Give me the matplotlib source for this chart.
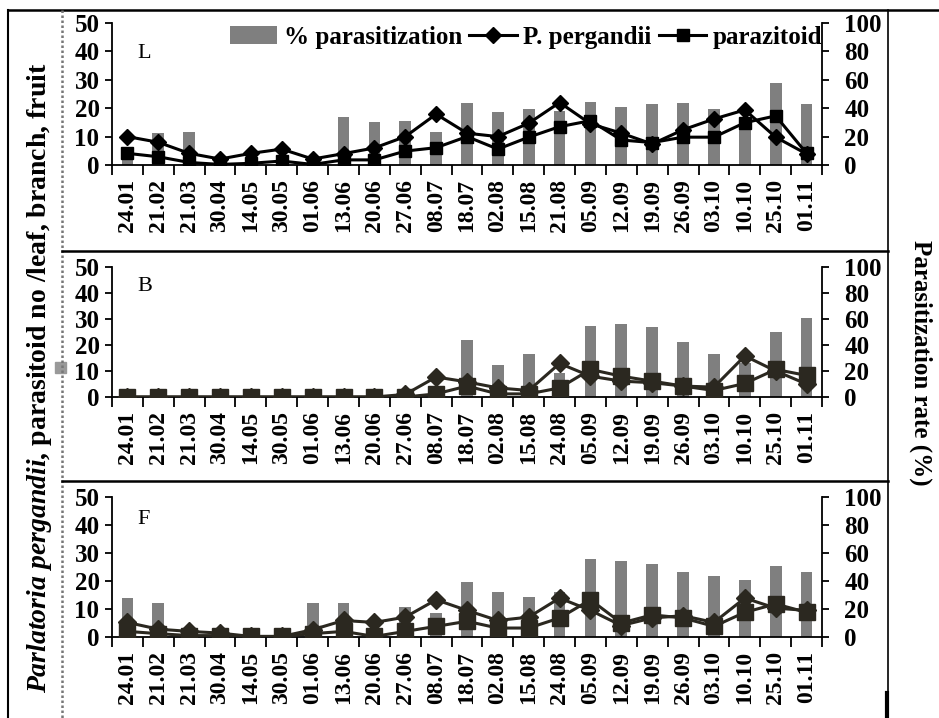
import numpy as np
import matplotlib
matplotlib.use("Agg")
import matplotlib.pyplot as plt
from matplotlib.lines import Line2D
from matplotlib.patches import Rectangle

plt.rcParams['font.family'] = ['Liberation Serif', 'DejaVu Serif']
plt.rcParams['font.weight'] = 'bold'
plt.rcParams['mathtext.fontset'] = 'custom'
plt.rcParams['mathtext.it'] = 'Liberation Serif:italic:bold'
plt.rcParams['mathtext.rm'] = 'Liberation Serif:bold'

# ---------------- data ----------------
dates_L = ["24.01", "21.02", "21.03", "30.04", "14.05", "30.05", "01.06", "13.06",
           "20.06", "27.06", "08.07", "18.07", "02.08", "15.08", "21.08", "05.09",
           "12.09", "19.09", "26.09", "03.10", "10.10", "25.10", "01.11"]
dates_BF = ["24.01", "21.02", "21.03", "30.04", "14.05", "30.05", "01.06", "13.06",
            "20.06", "27.06", "08.07", "18.07", "02.08", "15.08", "24.08", "05.09",
            "12.09", "19.09", "26.09", "03.10", "10.10", "25.10", "01.11"]

# Panel L
pergandii_L = [10, 8, 4.1, 2.1, 4.1, 5.6, 2.1, 4, 6, 10, 17.9, 11.2, 10, 14.7, 22,
               14.5, 11.2, 7.4, 12.4, 16.2, 19.4, 9.8, 3.9]
parazit_L = [4.1, 2.9, 0.9, 0.2, 0.6, 1.4, 0.2, 1.8, 1.8, 4.9, 6.1, 10, 5.6, 9.8, 13.5,
             15.6, 8.8, 7.9, 9.8, 9.8, 14.9, 17.3, 4.1]
rate_L = [13, 22.5, 23, 0, 0, 0, 0, 33.6, 30, 31.3, 23, 43.5, 37, 39.3, 38,
          44.7, 40.5, 43, 43.5, 39.4, 33, 57.6, 42.8]

# Panel B
pergandii_B = [0, 0, 0, 0, 0, 0, 0, 0, 0, 1, 7.7, 5.8, 3.5, 2.5, 12.9,
               8, 6.1, 5.5, 4.2, 3.8, 15.8, 10, 5]
parazit_B = [0, 0, 0, 0, 0, 0, 0, 0, 0, 0, 1.2, 4.2, 1.2, 1.2, 3.5,
             10.6, 8, 6.1, 4.2, 2.5, 5.2, 10.6, 8.3]
rate_B = [0, 0, 0, 0, 0, 0, 0, 0, 0, 0, 0, 43.6, 25, 32.8, 18.7,
          55, 56, 53.6, 42.6, 32.8, 26.4, 50, 61]

# Panel F
pergandii_F = [5.2, 2.8, 2, 1.4, 0.2, 0.2, 2.6, 5.9, 5.2, 7.1, 13.3, 9.5, 5.9, 7.1, 13.9,
               9.5, 4.1, 6.8, 7.6, 5.2, 13.9, 10.3, 9.5]
parazit_F = [2, 1.2, 0.5, 0.5, 0.2, 0.2, 1.2, 2, 0.2, 2, 3.8, 5.6, 3.2, 3.2, 6.8,
             13.3, 5, 7.9, 6.8, 3.8, 8.8, 11.8, 8.8]
rate_F = [28, 24.6, 0, 0, 0, 0, 24.6, 24.6, 0, 21.3, 17.5, 39.6, 32.5, 28.9, 32.5,
          55.5, 54.5, 52.1, 46.2, 43.8, 40.8, 51, 46.2]

panel_letters = ["L", "B", "F"]

# ---------------- figure ----------------
W, H = 939, 718
fig = plt.figure(figsize=(W / 100, H / 100), dpi=100)
fig.patch.set_facecolor('white')


def fx(px):
    return px / W


def fy(py):
    return 1 - py / H


# axes boxes in pixels: (top_y_of_50, bottom_y_of_0)
boxes = [(23, 165), (267, 397), (497, 637)]
x_left, x_right = 112, 822

panels = [
    (dates_L, pergandii_L, parazit_L, rate_L, '#000000', 8, 9),
    (dates_BF, pergandii_B, parazit_B, rate_B, '#2b2820', 9, 11),
    (dates_BF, pergandii_F, parazit_F, rate_F, '#2b2820', 9, 11),
]

FS = 17
YFS = 18
bar_color = '#7f7f7f'

for i, ((top, bot), (dates, perg, para, rate, lc, dms, sms)) in enumerate(zip(boxes, panels)):
    ax = fig.add_axes([fx(x_left), fy(bot), fx(x_right - x_left), (bot - top) / H])
    ax2 = ax.twinx()
    ax.set_zorder(ax2.get_zorder() + 1)
    ax.patch.set_visible(False)

    x = np.arange(len(dates))
    bars = ax2.bar(x, rate, width=0.38, color=bar_color, label='% parasitization', zorder=1)
    l1, = ax.plot(x, perg, color=lc, lw=2.2, marker='D', markersize=dms,
                  label='P. pergandii', zorder=3)
    l2, = ax.plot(x, para, color=lc, lw=2.2, marker='s', markersize=sms,
                  label='parazitoid', zorder=3)

    ax.set_xlim(-0.5, len(dates) - 0.5)
    ax.set_ylim(0, 50)
    ax2.set_ylim(0, 100)
    ax.set_yticks(np.arange(0, 51, 10))
    ax2.set_yticks(np.arange(0, 101, 20))

    ax.set_xticks(x)
    ax.set_xticklabels(dates, rotation=90, fontsize=FS, fontweight='bold')
    ax.set_xticks(np.arange(-0.5, len(dates), 1), minor=True)
    ax.tick_params(axis='x', which='major', length=0, pad=10)
    ax.tick_params(axis='x', which='minor', length=7, width=1.3, direction='out')
    ax.tick_params(axis='y', length=5, width=1.3, direction='out', pad=4, labelsize=YFS)
    ax2.tick_params(axis='y', length=5, width=1.3, direction='out', pad=11, labelsize=YFS)
    for lab in ax.get_yticklabels() + ax2.get_yticklabels():
        lab.set_fontweight('bold')

    for a in (ax, ax2):
        a.spines['top'].set_visible(False)
        for s in ('left', 'right', 'bottom'):
            a.spines[s].set_linewidth(1.3)
    ax.spines['right'].set_visible(False)
    ax2.spines['left'].set_visible(False)
    ax2.spines['bottom'].set_visible(False)

    ly = (bot - [53, 287, 520][i]) / (bot - top)
    ax.text(0.036, ly, panel_letters[i], transform=ax.transAxes, fontsize=16,
            fontweight='normal', ha='left', va='center')

    if i == 0:
        ax.legend([bars, l1, l2], ['% parasitization', 'P. pergandii', 'parazitoid'],
                  loc='center right', bbox_to_anchor=(1.0, 0.90), ncol=3,
                  frameon=False, prop={'weight': 'bold', 'size': 18},
                  handlelength=1.9, handletextpad=0.25, columnspacing=0.3,
                  borderaxespad=0, borderpad=0)

# axis labels
fig.text(fx(40), fy(378),
         r'$\mathit{Parlatoria\ pergandii}$, parasitoid no /leaf, branch, fruit',
         rotation=90, ha='center', va='center', fontsize=20, fontweight='bold')
fig.text(fx(921), fy(363), 'Parasitization rate (%)', rotation=-90,
         ha='center', va='center', fontsize=18, fontweight='bold')

# frame lines (table borders)
def hline(y, x0, x1, lw=2.0, color='black', ls='-'):
    fig.add_artist(Line2D([fx(x0), fx(x1)], [fy(y), fy(y)], lw=lw, color=color, ls=ls,
                          transform=fig.transFigure))


def vline(x, y0, y1, lw=2.0, color='black', ls='-'):
    fig.add_artist(Line2D([fx(x), fx(x)], [fy(y0), fy(y1)], lw=lw, color=color, ls=ls,
                          transform=fig.transFigure))


hline(10, 8, 939, lw=1.8)
vline(8, 10, 718, lw=1.5)
vline(62, 10, 718, lw=1.8, color='#777777', ls=(0, (1, 1)))
vline(888, 10, 718, lw=1.2)
vline(887, 693, 718, lw=3)
hline(251, 62, 888, lw=1.8)
hline(481, 62, 888, lw=1.8)
fig.add_artist(Rectangle((fx(55), fy(373)), fx(11), 11 / H, color='#999999',
                         transform=fig.transFigure))

fig.savefig('out.png', dpi=100)
